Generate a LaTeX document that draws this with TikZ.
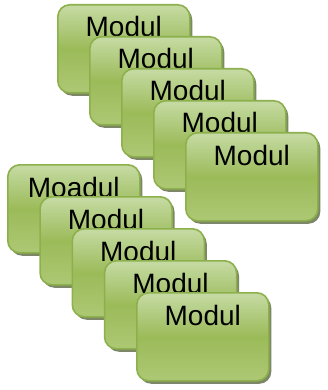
\documentclass[tikz,border=0pt]{standalone}
\usepackage{fontspec}
\setmainfont{Liberation Sans}
\usetikzlibrary{shadows}
\definecolor{modtop}{HTML}{C6DBA4}
\definecolor{modmid}{HTML}{9BBB59}
\definecolor{modbot}{HTML}{ADC874}
\definecolor{modline}{HTML}{8DB04C}
\definecolor{modshadow}{HTML}{4F5F33}
\tikzset{
  modbox/.style={
    draw=modline, line width=1.6pt, rounded corners=12pt,
    top color=modtop, bottom color=modbot, middle color=modmid,
    minimum width=132pt, minimum height=88pt, inner sep=0pt,
    anchor=north west,
    drop shadow={shadow xshift=2.5pt, shadow yshift=-3pt,
                 fill=modshadow, opacity=0.75}},
  modtext/.style={anchor=base, font=\fontsize{28}{30}\selectfont, inner sep=0pt}
}
\begin{document}
\begin{tikzpicture}[x=1pt,y=-1pt]
  \useasboundingbox (0,0) rectangle (327,390);
  % upper stack
  \foreach \i/\t in {0/Modul,1/Modul,2/Modul,3/Modul,4/Modul}{
    \node[modbox] (a\i) at (57+32*\i,4+32*\i) {};
    \node[modtext] (at\i) at ([yshift=-33pt]a\i.north) {\t};
  }
  % lower stack
  \foreach \i/\t in {0/Moadul,1/Modul,2/Modul,3/Modul,4/Modul}{
    \node[modbox] (b\i) at (7+32.25*\i,164+32*\i) {};
    \node[modtext] (bt\i) at ([yshift=-33pt]b\i.north) {\t};
  }
\end{tikzpicture}
\end{document}
